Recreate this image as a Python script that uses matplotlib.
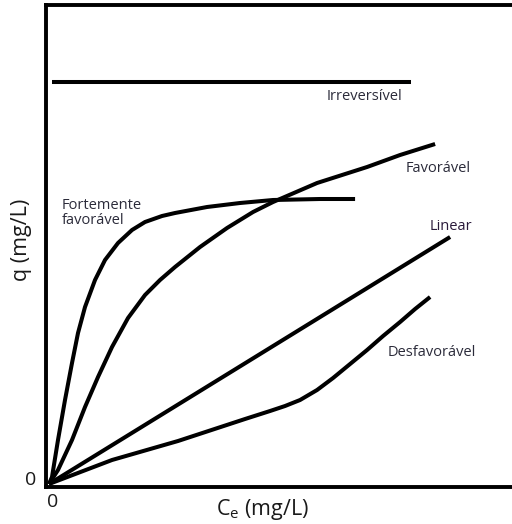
import matplotlib
matplotlib.use("Agg")
import matplotlib.pyplot as plt

# Data (arbitrary units)
irrev_x = [6, 365]
irrev_q = [405, 405]

fort_x = [3, 6, 12, 19, 26, 32, 39, 49, 59, 72, 86, 99, 116, 129, 161, 194, 227, 274, 309]
fort_q = [3, 10, 47, 87, 124, 154, 180, 207, 227, 244, 257, 265, 271, 274, 280, 284, 287, 288, 288]

fav_x = [3, 12, 26, 39, 52, 66, 82, 99, 114, 129, 154, 181, 207, 227, 271, 321, 354, 389]
fav_q = [3, 17, 47, 80, 110, 140, 169, 192, 207, 220, 240, 259, 275, 285, 304, 320, 332, 343]

lin_x = [3, 404]
lin_q = [3, 250]

desf_x = [3, 66, 132, 199, 224, 239, 254, 271, 287, 304, 321, 337, 354, 369, 384]
desf_q = [3, 27, 46, 68, 76, 81, 87, 97, 109, 123, 137, 151, 165, 178, 190]

labels = ["Irreversível", "Favorável", "Fortemente\nfavorável", "Linear", "Desfavorável"]

W, H = 512, 524
fig = plt.figure(figsize=(W / 100, H / 100), dpi=100)
x0, y0 = 46, 487
xr, yt = 512, 5
ax = fig.add_axes([x0 / W, (H - y0) / H, (xr - x0) / W + 0.01, (y0 - yt) / H])
ax.set_xlim(0, (xr - x0) + 5)
ax.set_ylim(0, y0 - yt)

lw = 2.9
for xs, qs in [(irrev_x, irrev_q), (fort_x, fort_q), (fav_x, fav_q), (lin_x, lin_q), (desf_x, desf_q)]:
    ax.plot(xs, qs, color="black", lw=lw, solid_capstyle="butt", solid_joinstyle="round")

for s in ["top", "left", "bottom"]:
    ax.spines[s].set_linewidth(2.8)
ax.spines["right"].set_visible(False)
ax.set_xticks([])
ax.set_yticks([])

font = "Open Sans"
tc = "#2b2b3a"
fs = 10.5
ax.text(281, 390, labels[0], fontsize=fs, family=font, color=tc, va="center", ha="left")
ax.text(360, 319, labels[1], fontsize=fs, family=font, color=tc, va="center", ha="left")
ax.text(16, 274, labels[2], fontsize=fs, family=font, color=tc, va="center", ha="left", linespacing=1.0)
ax.text(384, 260, labels[3], fontsize=fs, family=font, color="#2a1a3a", va="center", ha="left")
ax.text(342, 135, labels[4], fontsize=fs, family=font, color=tc, va="center", ha="left")

fig.text(22 / W, 1 - 240 / H, "q (mg/L)", rotation=90, fontsize=15.5, family=font,
         color="#1a1a1a", ha="center", va="center")
fig.text(31 / W, 1 - 480 / H, "0", fontsize=14, family=font, color="#1a1a1a", ha="center", va="center")
fig.text(53 / W, 1 - 502 / H, "0", fontsize=14, family=font, color="#1a1a1a", ha="center", va="center")
fig.text(262 / W, 1 - 509 / H, r"C$_\mathregular{e}$ (mg/L)", fontsize=15.5, family=font,
         color="#1a1a1a", ha="center", va="center")

fig.savefig("out.png", dpi=100)
